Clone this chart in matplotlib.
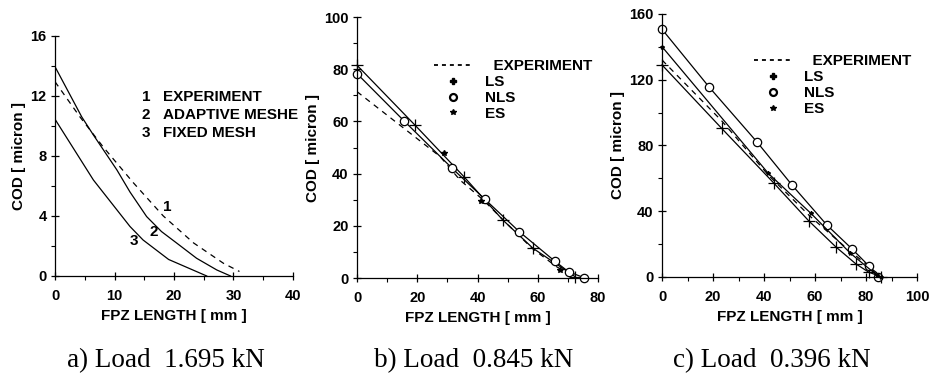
import matplotlib
matplotlib.use("Agg")
import matplotlib.pyplot as plt
from matplotlib.lines import Line2D
from matplotlib.ticker import MultipleLocator

plt.rcParams['font.family'] = ['Liberation Sans', 'DejaVu Sans']
plt.rcParams['font.weight'] = 'bold'

# panel a (load 1.695 kN)
a_exp_x = [0, 4.2, 8.1, 13.2, 18.2, 23.3, 28.3, 31.0]
a_exp_y = [12.95, 10.6, 8.6, 6.2, 4.0, 2.2, 0.85, 0.3]
a_adapt_x = [0, 4.5, 6.45, 10.4, 12.6, 15.4, 17.9, 20.5, 23.8, 27.2, 29.5]
a_adapt_y = [13.95, 10.6, 9.4, 7.07, 5.6, 3.96, 2.96, 2.18, 1.18, 0.4, 0.0]
a_fixed_x = [0, 6.45, 12.6, 14.8, 19.1, 25.5]
a_fixed_y = [10.45, 6.4, 3.3, 2.4, 1.1, 0.0]
a_legend = ["EXPERIMENT", "ADAPTIVE MESHE", "FIXED MESH"]

# panel b (load 0.845 kN)
b_exp_x = [0, 27.6, 34.2, 41.9, 50, 58, 66, 72]
b_exp_y = [71.4, 46.5, 37.5, 29.9, 20.5, 11.5, 4.5, 0.3]
b_ls_x = [0, 19.3, 35.5, 48.4, 58.4, 72.4]
b_ls_y = [81.5, 58.5, 38.8, 22.2, 11.4, 0.5]
b_nls_x = [0, 15.6, 31.6, 42.5, 53.9, 65.6, 70.2, 75.4]
b_nls_y = [78.3, 60.2, 42.0, 30.1, 17.7, 6.5, 2.4, 0.1]
b_es_x = [28.7, 41.0, 67.2]
b_es_y = [47.8, 29.5, 3.1]

# panel c (load 0.396 kN)
c_exp_x = [0, 23.4, 41.7, 58, 72, 83, 86]
c_exp_y = [132, 95, 62, 37, 18, 4, 0.5]
c_ls_x = [0, 23.4, 43.8, 57.5, 68.1, 76.0, 81.0, 85.8]
c_ls_y = [129, 90.4, 57.2, 34.2, 18.4, 8.0, 3.0, 0.2]
c_nls_x = [0, 18.6, 37.2, 51.1, 64.6, 74.5, 81.2, 84.8]
c_nls_y = [150.7, 115.3, 82.2, 55.7, 31.7, 17.1, 6.6, 0.1]
c_es_x = [0, 41.7, 58.4, 73.9, 84.2, 86.0]
c_es_y = [140.1, 63, 38.7, 14.4, 1.2, 0.0]

captions = ["a) Load  1.695 kN", "b) Load  0.845 kN", "c) Load  0.396 kN"]

fig = plt.figure(figsize=(9.31, 3.76), dpi=100)
ax_a = fig.add_axes([0.0591, 0.2660, 0.2556, 0.6383])
ax_b = fig.add_axes([0.3835, 0.2606, 0.2589, 0.6941])
ax_c = fig.add_axes([0.7111, 0.2633, 0.2739, 0.6995])

dash = (4.5, 4)
lw = 0.9
fs = 11


def style(ax, xmax, ymax, xmaj, xmin, ymaj, ymin):
    ax.set_xlim(0, xmax)
    ax.set_ylim(0, ymax)
    ax.spines['top'].set_visible(False)
    ax.spines['right'].set_visible(False)
    ax.xaxis.set_major_locator(MultipleLocator(xmaj))
    ax.xaxis.set_minor_locator(MultipleLocator(xmin))
    ax.yaxis.set_major_locator(MultipleLocator(ymaj))
    ax.yaxis.set_minor_locator(MultipleLocator(ymin))
    ax.tick_params(which='major', direction='inout', length=6, width=0.9, labelsize=10.5, pad=3)
    ax.tick_params(axis='x', which='major', pad=6.5)
    ax.tick_params(which='minor', direction='out', length=3, width=0.8)
    for s in ['left', 'bottom']:
        ax.spines[s].set_linewidth(0.9)
    for lab in ax.get_xticklabels() + ax.get_yticklabels():
        lab.set_fontweight('bold')
    ax.set_xlabel("FPZ LENGTH [ mm ]", fontsize=fs, fontweight='bold', labelpad=4)
    ax.set_ylabel("COD [ micron ]", fontsize=fs, fontweight='bold', labelpad=3)


# panel a
ax_a.plot(a_exp_x, a_exp_y, color='black', lw=lw, dashes=dash)
ax_a.plot(a_adapt_x, a_adapt_y, color='black', lw=lw)
ax_a.plot(a_fixed_x, a_fixed_y, color='black', lw=lw)
ax_a.text(18.9, 4.6, "1", fontsize=fs, fontweight='bold', ha='center', va='center')
ax_a.text(16.6, 2.95, "2", fontsize=fs, fontweight='bold', ha='center', va='center')
ax_a.text(13.2, 2.3, "3", fontsize=fs, fontweight='bold', ha='center', va='center')
for i, (txt, yy) in enumerate(zip(a_legend, [11.93, 10.73, 9.53])):
    ax_a.text(14.6, yy, str(i + 1), fontsize=fs, fontweight='bold', va='center')
    ax_a.text(18.15, yy, txt, fontsize=fs, fontweight='bold', va='center')
style(ax_a, 40, 16, 10, 5, 4, 2)

# panel b
ax_b.plot(b_exp_x, b_exp_y, color='black', lw=lw, dashes=dash)
ax_b.plot(b_ls_x, b_ls_y, color='black', lw=lw, marker='+', ms=8, mew=0.9, clip_on=False)
ax_b.plot(b_nls_x, b_nls_y, color='black', lw=lw, marker='o', ms=6, mfc='white', mew=0.9, clip_on=False)
ax_b.plot(b_es_x, b_es_y, ls='none', color='black', marker='*', ms=4, clip_on=False)
style(ax_b, 80, 100, 20, 10, 20, 10)

# panel c
ax_c.plot(c_exp_x, c_exp_y, color='black', lw=lw, dashes=dash)
ax_c.plot(c_ls_x, c_ls_y, color='black', lw=lw, marker='+', ms=8, mew=0.9, clip_on=False)
ax_c.plot(c_nls_x, c_nls_y, color='black', lw=lw, marker='o', ms=6, mfc='white', mew=0.9, clip_on=False)
ax_c.plot(c_es_x, c_es_y, color='black', lw=lw, marker='*', ms=3, clip_on=False)
style(ax_c, 100, 160, 20, 10, 40, 20)

handles = [
    Line2D([], [], color='black', lw=1.3, dashes=(2.2, 2.2)),
    Line2D([], [], ls='none', color='black', marker='P', ms=5),
    Line2D([], [], ls='none', color='black', marker='o', ms=5, mfc='white', mew=1.6),
    Line2D([], [], ls='none', color='black', marker='*', ms=4),
]
labels = ["  EXPERIMENT", "LS", "NLS", "ES"]
ax_b.legend(handles, labels, loc='upper left', bbox_to_anchor=(0.32, 0.838), frameon=False,
            handlelength=2.5, handletextpad=0.8, labelspacing=0.12, borderpad=0, borderaxespad=0,
            prop={'weight': 'bold', 'size': fs})
ax_c.legend(handles, labels, loc='upper left', bbox_to_anchor=(0.36, 0.846), frameon=False,
            handlelength=2.5, handletextpad=0.8, labelspacing=0.12, borderpad=0, borderaxespad=0,
            prop={'weight': 'bold', 'size': fs})

for cx, txt in zip([166 / 931, 474 / 931, 772 / 931], captions):
    fig.text(cx, 0.024, txt, ha='center', va='baseline', fontsize=19.5,
             family=['Liberation Serif', 'DejaVu Serif'], fontweight='normal')

fig.savefig("out.png", dpi=100)
